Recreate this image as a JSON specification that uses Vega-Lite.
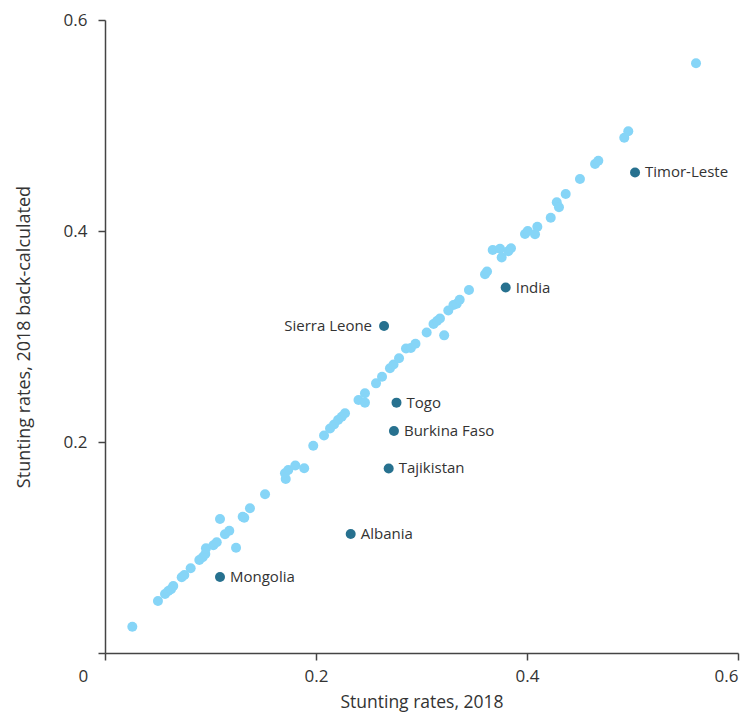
{
  "$schema": "https://vega.github.io/schema/vega-lite/v6.json",
  "width": 633,
  "height": 633,
  "autosize": {"type": "none"},
  "padding": {"left": 105, "top": 20, "right": 16, "bottom": 64},
  "config": {
    "font": "Open Sans",
    "view": {"stroke": null},
    "axis": {
      "domainColor": "#444444",
      "domainWidth": 1.5,
      "tickColor": "#444444",
      "tickWidth": 1.5,
      "tickSize": 7,
      "grid": false,
      "labelFont": "Open Sans",
      "labelFontSize": 17,
      "labelColor": "#333333",
      "titleFont": "Open Sans",
      "titleFontSize": 17.5,
      "titleFontWeight": "normal",
      "titleColor": "#333333"
    }
  },
  "data": {
    "values": [
      {"country": "", "x": 0.0259, "y": 0.0249, "group": "other"},
      {"country": "", "x": 0.0502, "y": 0.0493, "group": "other"},
      {"country": "", "x": 0.0569, "y": 0.0559, "group": "other"},
      {"country": "", "x": 0.0600, "y": 0.0588, "group": "other"},
      {"country": "", "x": 0.0626, "y": 0.0604, "group": "other"},
      {"country": "", "x": 0.0647, "y": 0.0635, "group": "other"},
      {"country": "", "x": 0.0727, "y": 0.0718, "group": "other"},
      {"country": "", "x": 0.0752, "y": 0.0739, "group": "other"},
      {"country": "", "x": 0.0812, "y": 0.0803, "group": "other"},
      {"country": "", "x": 0.0894, "y": 0.0882, "group": "other"},
      {"country": "", "x": 0.0926, "y": 0.0907, "group": "other"},
      {"country": "", "x": 0.0951, "y": 0.0938, "group": "other"},
      {"country": "", "x": 0.0957, "y": 0.0992, "group": "other"},
      {"country": "", "x": 0.1027, "y": 0.1021, "group": "other"},
      {"country": "", "x": 0.1059, "y": 0.1049, "group": "other"},
      {"country": "", "x": 0.1090, "y": 0.1270, "group": "other"},
      {"country": "", "x": 0.1137, "y": 0.1125, "group": "other"},
      {"country": "", "x": 0.1178, "y": 0.1159, "group": "other"},
      {"country": "", "x": 0.1242, "y": 0.0998, "group": "other"},
      {"country": "", "x": 0.1305, "y": 0.1292, "group": "other"},
      {"country": "", "x": 0.1320, "y": 0.1282, "group": "other"},
      {"country": "", "x": 0.1374, "y": 0.1372, "group": "other"},
      {"country": "", "x": 0.1517, "y": 0.1504, "group": "other"},
      {"country": "", "x": 0.1713, "y": 0.1649, "group": "other"},
      {"country": "", "x": 0.1706, "y": 0.1703, "group": "other"},
      {"country": "", "x": 0.1737, "y": 0.1735, "group": "other"},
      {"country": "", "x": 0.1804, "y": 0.1777, "group": "other"},
      {"country": "", "x": 0.1888, "y": 0.1751, "group": "other"},
      {"country": "", "x": 0.1974, "y": 0.1965, "group": "other"},
      {"country": "", "x": 0.2076, "y": 0.2062, "group": "other"},
      {"country": "", "x": 0.2133, "y": 0.2128, "group": "other"},
      {"country": "", "x": 0.2171, "y": 0.2166, "group": "other"},
      {"country": "", "x": 0.2209, "y": 0.2209, "group": "other"},
      {"country": "", "x": 0.2244, "y": 0.2240, "group": "other"},
      {"country": "", "x": 0.2275, "y": 0.2272, "group": "other"},
      {"country": "", "x": 0.2403, "y": 0.2398, "group": "other"},
      {"country": "", "x": 0.2464, "y": 0.2462, "group": "other"},
      {"country": "", "x": 0.2464, "y": 0.2373, "group": "other"},
      {"country": "", "x": 0.2569, "y": 0.2556, "group": "other"},
      {"country": "", "x": 0.2626, "y": 0.2619, "group": "other"},
      {"country": "", "x": 0.2701, "y": 0.2699, "group": "other"},
      {"country": "", "x": 0.2735, "y": 0.2735, "group": "other"},
      {"country": "", "x": 0.2787, "y": 0.2793, "group": "other"},
      {"country": "", "x": 0.2853, "y": 0.2886, "group": "other"},
      {"country": "", "x": 0.2899, "y": 0.2891, "group": "other"},
      {"country": "", "x": 0.2943, "y": 0.2932, "group": "other"},
      {"country": "", "x": 0.3049, "y": 0.3038, "group": "other"},
      {"country": "", "x": 0.3114, "y": 0.3118, "group": "other"},
      {"country": "", "x": 0.3147, "y": 0.3147, "group": "other"},
      {"country": "", "x": 0.3175, "y": 0.3171, "group": "other"},
      {"country": "", "x": 0.3215, "y": 0.3011, "group": "other"},
      {"country": "", "x": 0.3254, "y": 0.3246, "group": "other"},
      {"country": "", "x": 0.3303, "y": 0.3299, "group": "other"},
      {"country": "", "x": 0.3334, "y": 0.3311, "group": "other"},
      {"country": "", "x": 0.3362, "y": 0.3349, "group": "other"},
      {"country": "", "x": 0.3450, "y": 0.3441, "group": "other"},
      {"country": "", "x": 0.3602, "y": 0.3590, "group": "other"},
      {"country": "", "x": 0.3621, "y": 0.3616, "group": "other"},
      {"country": "", "x": 0.3675, "y": 0.3820, "group": "other"},
      {"country": "", "x": 0.3744, "y": 0.3832, "group": "other"},
      {"country": "", "x": 0.3760, "y": 0.3749, "group": "other"},
      {"country": "", "x": 0.3823, "y": 0.3809, "group": "other"},
      {"country": "", "x": 0.3848, "y": 0.3836, "group": "other"},
      {"country": "", "x": 0.3981, "y": 0.3972, "group": "other"},
      {"country": "", "x": 0.4007, "y": 0.4000, "group": "other"},
      {"country": "", "x": 0.4076, "y": 0.3969, "group": "other"},
      {"country": "", "x": 0.4098, "y": 0.4041, "group": "other"},
      {"country": "", "x": 0.4225, "y": 0.4126, "group": "other"},
      {"country": "", "x": 0.4282, "y": 0.4272, "group": "other"},
      {"country": "", "x": 0.4303, "y": 0.4225, "group": "other"},
      {"country": "", "x": 0.4367, "y": 0.4351, "group": "other"},
      {"country": "", "x": 0.4502, "y": 0.4493, "group": "other"},
      {"country": "", "x": 0.4645, "y": 0.4635, "group": "other"},
      {"country": "", "x": 0.4676, "y": 0.4666, "group": "other"},
      {"country": "", "x": 0.4922, "y": 0.4884, "group": "other"},
      {"country": "", "x": 0.4960, "y": 0.4945, "group": "other"},
      {"country": "", "x": 0.5602, "y": 0.5590, "group": "other"},
      {"country": "Sierra Leone", "x": 0.2645, "y": 0.3100, "group": "highlight"},
      {"country": "India", "x": 0.3798, "y": 0.3464, "group": "highlight"},
      {"country": "Timor-Leste", "x": 0.5024, "y": 0.4555, "group": "highlight"},
      {"country": "Togo", "x": 0.2763, "y": 0.2373, "group": "highlight"},
      {"country": "Burkina Faso", "x": 0.2739, "y": 0.2104, "group": "highlight"},
      {"country": "Tajikistan", "x": 0.2689, "y": 0.1749, "group": "highlight"},
      {"country": "Albania", "x": 0.2329, "y": 0.1128, "group": "highlight"},
      {"country": "Mongolia", "x": 0.1090, "y": 0.0720, "group": "highlight"}
    ]
  },
  "encoding": {
    "x": {
      "field": "x",
      "type": "quantitative",
      "scale": {"domain": [0, 0.6], "nice": false},
      "axis": {
        "values": [0, 0.2, 0.4, 0.6],
        "title": "Stunting rates, 2018",
        "labelExpr": "datum.value == 0 ? '0' : format(datum.value, '.1f')",
        "labelOffset": {"condition": {"test": "datum.value == 0", "value": -27}, "value": 0},
        "labelPadding": 8,
        "titlePadding": 9
      }
    },
    "y": {
      "field": "y",
      "type": "quantitative",
      "scale": {"domain": [0, 0.6], "nice": false},
      "axis": {
        "values": [0, 0.2, 0.4, 0.6],
        "title": "Stunting rates, 2018 back-calculated",
        "titleFontSize": 18,
        "labelExpr": "datum.value == 0 ? '' : format(datum.value, '.1f')",
        "labelPadding": 11,
        "titlePadding": 30
      }
    }
  },
  "layer": [
    {
      "mark": {"type": "circle", "size": 100, "opacity": 1},
      "encoding": {
        "color": {
          "field": "group",
          "type": "nominal",
          "scale": {"domain": ["other", "highlight"], "range": ["#86D5F7", "#27718F"]},
          "legend": null
        },
        "order": {"field": "group", "sort": "descending"}
      }
    },
    {
      "transform": [{"filter": "datum.group == 'highlight' && datum.country != 'Sierra Leone'"}],
      "mark": {"type": "text", "align": "left", "baseline": "middle", "dx": 10, "fontSize": 15, "color": "#333333"},
      "encoding": {"text": {"field": "country"}}
    },
    {
      "transform": [{"filter": "datum.country == 'Sierra Leone'"}],
      "mark": {"type": "text", "align": "right", "baseline": "middle", "dx": -12, "fontSize": 15, "color": "#333333"},
      "encoding": {"text": {"field": "country"}}
    }
  ]
}
